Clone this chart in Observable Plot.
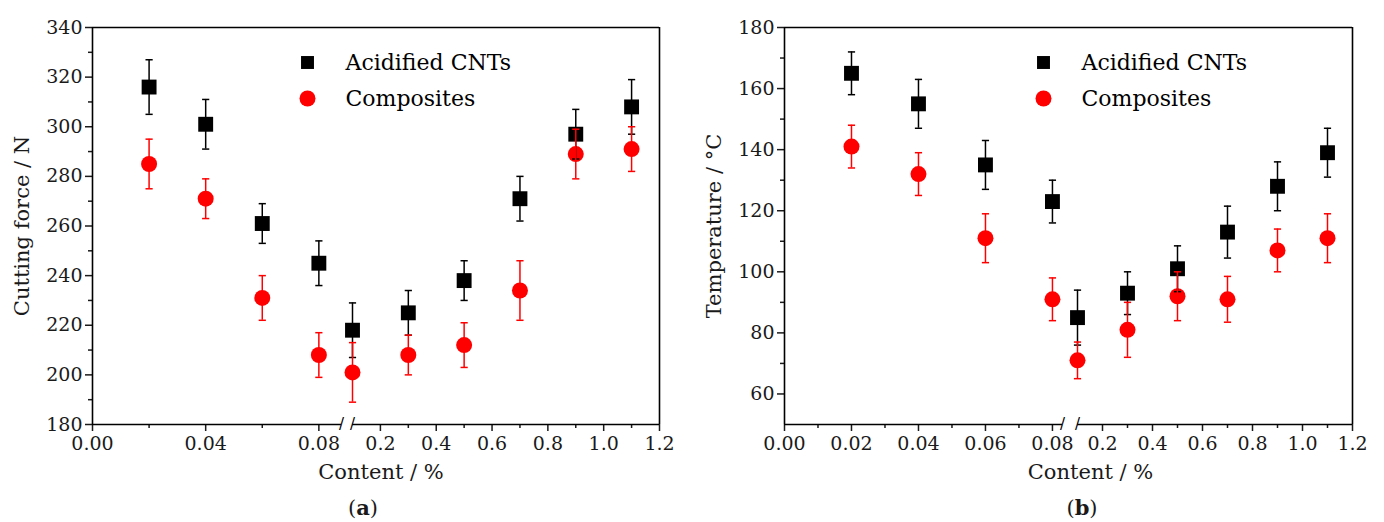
<!DOCTYPE html>
<html>
<head>
<meta charset="utf-8">
<script src="https://cdn.jsdelivr.net/npm/d3@7"></script>
<script src="https://cdn.jsdelivr.net/npm/@observablehq/plot@0.6"></script>
<style>
  body { margin: 0; background: #fff; }
  #wrap { position: relative; width: 1384px; height: 522px; display: flex; overflow: hidden; }
  #wrap svg { display: block; }
  .cap { position: absolute; top: 495px; font-family: "DejaVu Serif"; font-size: 21px; color: #1a1a1a; transform: translateX(-50%); }
</style>
</head>
<body>
<div id="wrap"></div>
<script>
// ---- data ----
const contents = [0.02, 0.04, 0.06, 0.08, 0.1, 0.3, 0.5, 0.7, 0.9, 1.1];
const seriesNames = ["Acidified CNTs", "Composites"];

const forceCNT     = [316, 301, 261, 245, 218, 225, 238, 271, 297, 308];
const forceCNTErr  = [11, 10, 8, 9, 11, 9, 8, 9, 10, 11];
const forceComp    = [285, 271, 231, 208, 201, 208, 212, 234, 289, 291];
const forceCompErr = [10, 8, 9, 9, 12, 8, 9, 12, 10, 9];

const tempCNT      = [165, 155, 135, 123, 85, 93, 101, 113, 128, 139];
const tempCNTErr   = [7, 8, 8, 7, 9, 7, 7.5, 8.5, 8, 8];
const tempComp     = [141, 132, 111, 91, 71, 81, 92, 91, 107, 111];
const tempCompErr  = [7, 7, 8, 7, 6, 9, 8, 7.5, 7, 8];

const forceMajor = [180, 200, 220, 240, 260, 280, 300, 320, 340];
const forceMinor = [190, 210, 230, 250, 270, 290, 310, 330];
const tempMajor  = [60, 80, 100, 120, 140, 160, 180];
const tempMinor  = [70, 90, 110, 130, 150, 170];

const xMajorA = [0, 0.04, 0.08, 0.2, 0.4, 0.6, 0.8, 1.0, 1.2];
const xMinorA = [0.02, 0.06, 0.3, 0.5, 0.7, 0.9, 1.1];
const xMajorB = [0, 0.02, 0.04, 0.06, 0.08, 0.2, 0.4, 0.6, 0.8, 1.0, 1.2];
const xMinorB = [0.01, 0.03, 0.05, 0.07, 0.3, 0.5, 0.7, 0.9, 1.1];

// ---- helpers ----
const rowsOf = (vals, errs) => contents.map((c, i) => ({x: c, y: vals[i], lo: vals[i] - errs[i], hi: vals[i] + errs[i]}));
const capSymbol = {draw(ctx, size) { const r = Math.sqrt(size / Math.PI); ctx.moveTo(-r, 0); ctx.lineTo(r, 0); }};
const fmtX = d => d < 0.095 ? d.toFixed(2) : d.toFixed(1);

// broken-axis transform: lower segment [0,b0], gap, upper segment [b1,xMax], given relative lengths
function makeBreak(b0, b1, xMax, lowerLen, gapLen, upperLen) {
  return v => {
    if (v <= b0) return v / b0 * lowerLen;
    if (v >= b1) return lowerLen + gapLen + (v - b1) / (xMax - b1) * upperLen;
    return lowerLen + (v - b0) / (b1 - b0) * gapLen;
  };
}

function panel(o) {
  const xMin = 0, xMax = 1.2;
  const [yMin, yMax] = o.yDomain;
  const cnt = rowsOf(o.cnt, o.cntErr);
  const comp = rowsOf(o.comp, o.compErr);
  const lw = 1.6;
  return Plot.plot({
    width: 692, height: 522,
    marginLeft: 92, marginRight: o.marginRight, marginTop: 27, marginBottom: 98,
    x: {transform: o.brk},
    y: {domain: o.yDomain},
    style: {fontFamily: "DejaVu Serif", fontSize: "19px", color: "#1a1a1a", background: "white", overflow: "visible"},
    marks: [
      // axes
      Plot.axisY(o.yMajor, {tickSize: 7, tickPadding: 3, strokeWidth: 1.5, fontSize: 19, label: null, tickFormat: d => String(d)}),
      Plot.axisY(o.yMinor, {tickSize: 4, strokeWidth: 1.5, tickFormat: () => "", label: null}),
      Plot.axisX(o.xMajor, {tickSize: 7, tickPadding: 5, strokeWidth: 1.5, fontSize: 19, tickFormat: fmtX, label: null}),
      Plot.axisX(o.xMinor, {tickSize: 4, strokeWidth: 1.5, tickFormat: () => "", label: null}),
      // frame
      Plot.ruleX([xMin], {y1: yMin, y2: yMax, strokeWidth: lw, stroke: "black"}),
      Plot.ruleX([xMax], {y1: yMin, y2: yMax, strokeWidth: lw, stroke: "black"}),
      Plot.ruleY([yMax], {x1: xMin, x2: xMax, strokeWidth: lw, stroke: "black"}),
      Plot.ruleY([yMin], {x1: xMin, x2: o.breaks[0], strokeWidth: lw, stroke: "black"}),
      Plot.ruleY([yMin], {x1: o.breaks[1], x2: xMax, strokeWidth: lw, stroke: "black"}),
      Plot.text(o.breaks, {x: d => d, y: yMin, text: () => "/", fontFamily: "DejaVu Sans", fontSize: 15, fill: "black", lineAnchor: "middle"}),
      // markers
      Plot.dot(cnt, {x: "x", y: "y", symbol: "square", r: 8.4, fill: "black", stroke: "none"}),
      Plot.dot(comp, {x: "x", y: "y", symbol: "circle", r: 8, fill: "#ff0000", stroke: "none"}),
      // error bars
      Plot.ruleX(cnt, {x: "x", y1: "lo", y2: "hi", stroke: "black", strokeWidth: 1.5}),
      Plot.dot(cnt, {x: "x", y: "hi", symbol: capSymbol, r: 3.6, fill: "none", stroke: "black", strokeWidth: 1.5}),
      Plot.dot(cnt, {x: "x", y: "lo", symbol: capSymbol, r: 3.6, fill: "none", stroke: "black", strokeWidth: 1.5}),
      Plot.ruleX(comp, {x: "x", y1: "lo", y2: "hi", stroke: "#ff0000", strokeWidth: 1.5}),
      Plot.dot(comp, {x: "x", y: "hi", symbol: capSymbol, r: 3.6, fill: "none", stroke: "#ff0000", strokeWidth: 1.5}),
      Plot.dot(comp, {x: "x", y: "lo", symbol: capSymbol, r: 3.6, fill: "none", stroke: "#ff0000", strokeWidth: 1.5}),
      // legend
      Plot.dot([seriesNames[0]], {frameAnchor: "top-left", dx: o.legDx, dy: 35, symbol: "square", r: 7.3, fill: "black", stroke: "none"}),
      Plot.dot([seriesNames[1]], {frameAnchor: "top-left", dx: o.legDx, dy: 71, symbol: "circle", r: 8, fill: "#ff0000", stroke: "none"}),
      Plot.text([seriesNames[0]], {frameAnchor: "top-left", dx: o.legDx + 38, dy: 35, text: d => d, textAnchor: "start", lineAnchor: "middle", fontSize: 22, fill: "black"}),
      Plot.text([seriesNames[1]], {frameAnchor: "top-left", dx: o.legDx + 38, dy: 71, text: d => d, textAnchor: "start", lineAnchor: "middle", fontSize: 22, fill: "black"}),
      // axis titles
      Plot.text([o.yLabel], {frameAnchor: "left", dx: -70, rotate: -90, text: d => d, fontSize: 21, textAnchor: "middle", lineAnchor: "middle"}),
      Plot.text(["Content / %"], {frameAnchor: "bottom", dx: o.xLabDx, dy: 48, text: d => d, fontSize: 21, textAnchor: "middle", lineAnchor: "middle"})
    ]
  });
}

const wrap = document.getElementById("wrap");
wrap.append(panel({
  yLabel: "Cutting force / N", yDomain: [180, 340], yMajor: forceMajor, yMinor: forceMinor,
  brk: makeBreak(0.088, 0.1, 1.2, 249, 11, 307), breaks: [0.088, 0.1],
  xMajor: xMajorA, xMinor: xMinorA, marginRight: 33,
  cnt: forceCNT, cntErr: forceCNTErr, comp: forceComp, compErr: forceCompErr,
  legDx: 215, xLabDx: 5
}));
wrap.append(panel({
  yLabel: "Temperature / °C", yDomain: [50, 180], yMajor: tempMajor, yMinor: tempMinor,
  brk: makeBreak(0.083, 0.1, 1.2, 278, 15, 275), breaks: [0.083, 0.1],
  xMajor: xMajorB, xMinor: xMinorB, marginRight: 32,
  cnt: tempCNT, cntErr: tempCNTErr, comp: tempComp, compErr: tempCompErr,
  legDx: 259, xLabDx: 22
}));
const capA = document.createElement("div");
capA.className = "cap"; capA.style.left = "363px"; capA.innerHTML = "(<b>a</b>)";
const capB = document.createElement("div");
capB.className = "cap"; capB.style.left = "1082px"; capB.innerHTML = "(<b>b</b>)";
wrap.append(capA, capB);
</script>
</body>
</html>
